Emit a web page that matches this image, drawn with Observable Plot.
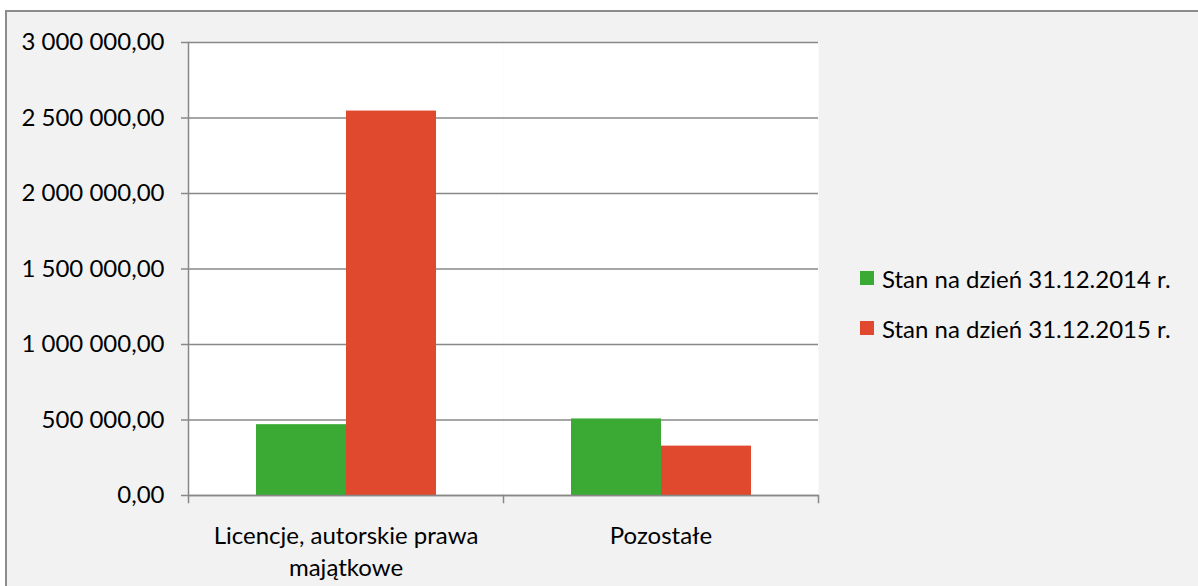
<!DOCTYPE html>
<html>
<head>
<meta charset="utf-8">
<script src="https://cdn.jsdelivr.net/npm/d3@7"></script>
<script src="https://cdn.jsdelivr.net/npm/@observablehq/plot@0.6"></script>
<style>
  html, body { margin: 0; padding: 0; background: #ffffff; width: 1198px; height: 586px; overflow: hidden; }
  #panel { position: absolute; left: 5px; top: 10px; width: 1200px; height: 600px; background: #f2f2f2; border: 2px solid #8c8c8c; box-sizing: border-box; }
  #chart { position: absolute; left: 0; top: 0; }
  #legend { position: absolute; left: 860px; top: 253px; font-family: Lato, sans-serif; font-size: 24px; color: #000; }
  .row { display: flex; align-items: center; height: 50px; white-space: nowrap; }
  .sw { width: 14px; height: 14px; margin-right: 8px; }
</style>
</head>
<body>
<div id="panel"></div>
<div id="chart"></div>
<div id="legend"></div>
<script>
const categories = ["Licencje, autorskie prawa majątkowe", "Pozostałe"];
const categoryLabels = ["Licencje, autorskie prawa\nmajątkowe", "Pozostałe"];
const series = ["Stan na dzień 31.12.2014 r.", "Stan na dzień 31.12.2015 r."];
const values2014 = [469000, 507000];
const values2015 = [2546000, 327000];
const colors = ["#3aaa35", "#e0492e"];
const yTicks = [0, 500000, 1000000, 1500000, 2000000, 2500000, 3000000];

const rows = [];
categories.forEach((c, i) => {
  rows.push({category: c, series: series[0], value: values2014[i]});
  rows.push({category: c, series: series[1], value: values2015[i]});
});

const plLocale = d3.formatLocale({decimal: ",", thousands: "\u00a0", grouping: [3], currency: ["", ""]});
const fmt = plLocale.format(",.2f");
const gridColor = "#888888";

const plot = Plot.plot({
  width: 1198,
  height: 586,
  marginLeft: 188,
  marginRight: 380,
  marginTop: 42,
  marginBottom: 91,
  style: {background: "transparent", fontFamily: "Lato, sans-serif", fontSize: "24px", color: "#000", overflow: "visible"},
  fx: {domain: categories, padding: 0, axis: null},
  x: {domain: series, paddingInner: 0, paddingOuter: 0.75, axis: null},
  y: {domain: [0, 3000000], axis: null},
  color: {domain: series, range: colors},
  marks: [
    Plot.frame({fill: "white", stroke: "none"}),
    Plot.ruleY(yTicks, {y: d => d, stroke: gridColor, strokeWidth: 1.3}),
    Plot.barY(rows, {fx: "category", x: "series", y: "value", fill: "series"}),
    Plot.ruleY([0], {stroke: gridColor, strokeWidth: 1.5}),
    Plot.frame({anchor: "left", fx: () => categories[0], insetBottom: -7, stroke: gridColor, strokeWidth: 1.5}),
    Plot.frame({anchor: "right", insetTop: 453, insetBottom: -7, stroke: gridColor, strokeWidth: 1.5}),
    Plot.axisY(yTicks, {label: null, tickSize: 7, tickPadding: 17, tickFormat: fmt, stroke: gridColor, strokeWidth: 1.5, fill: "#000", fontSize: 24}),
    Plot.text(categories, {fx: d => d, text: d => categoryLabels[categories.indexOf(d)], frameAnchor: "bottom", lineAnchor: "top", dy: 26, lineHeight: 1.33, fill: "#000", fontSize: 24})
  ]
});
document.getElementById("chart").appendChild(plot);

const legend = document.getElementById("legend");
series.forEach((s, i) => {
  const row = document.createElement("div");
  row.className = "row";
  const sw = document.createElement("div");
  sw.className = "sw";
  sw.style.background = colors[i];
  const t = document.createElement("span");
  t.textContent = s;
  row.appendChild(sw);
  row.appendChild(t);
  legend.appendChild(row);
});
</script>
</body>
</html>
